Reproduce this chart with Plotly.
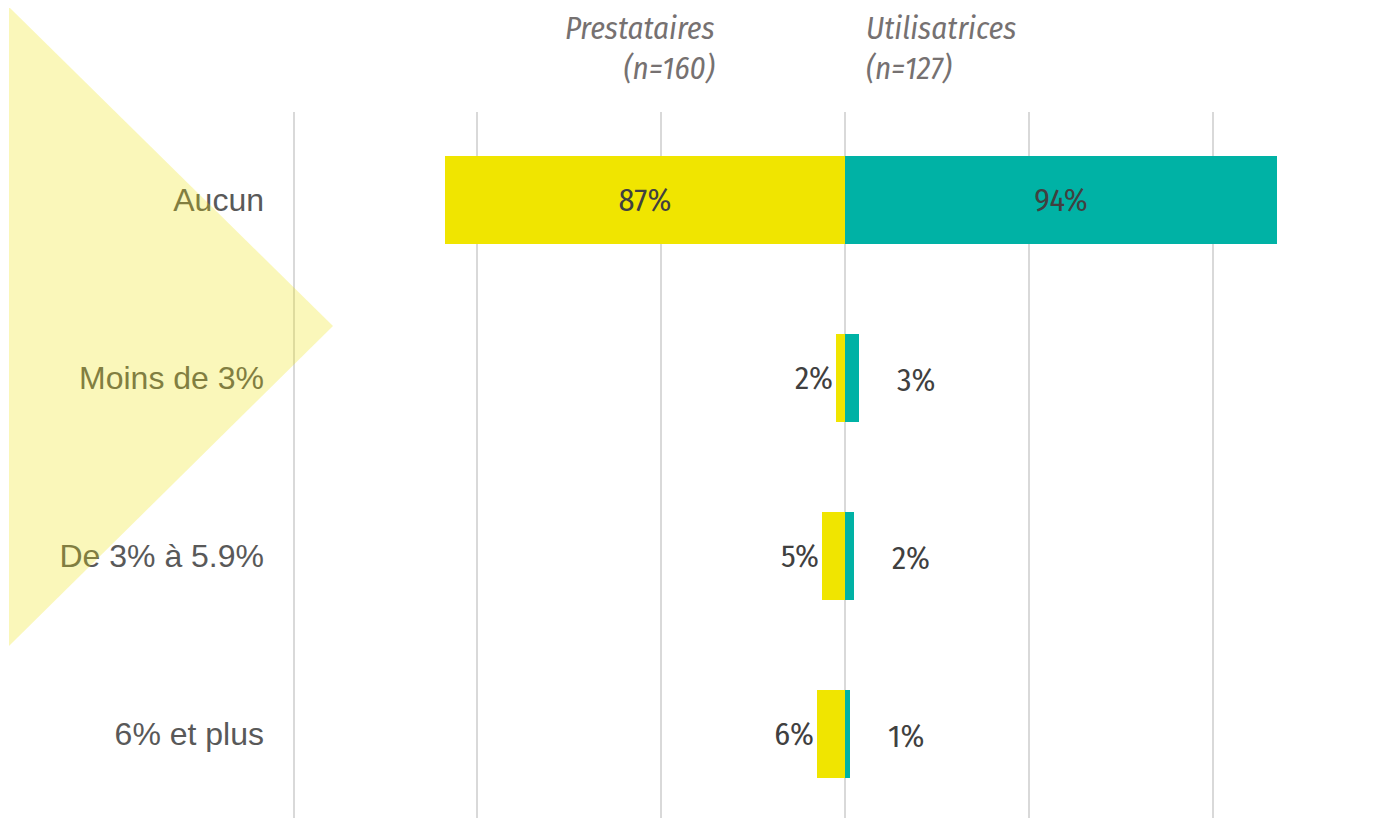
import plotly.graph_objects as go

categories = ["Aucun", "Moins de 3%", "De 3% à 5.9%", "6% et plus"]
prestataires = [87, 2, 5, 6]
utilisatrices = [94, 3, 2, 1]
series_names = ["Prestataires", "Utilisatrices"]
series_n = ["(n=160)", "(n=127)"]

YELLOW = "#F0E500"
TEAL = "#00B2A5"
LABEL_COLOR = "#404040"
CAT_COLOR = "#595959"
HEAD_COLOR = "#767171"
COND = "Fira Sans Condensed, Roboto Condensed, DejaVu Sans Condensed, Liberation Sans Narrow, Roboto, sans-serif"

OFF = 8  # page body margin
W, H = 1388 - OFF, 818 - OFF
ML, MT = 288 - OFF, 112 - OFF
plot_w, plot_h = W - ML, H - MT

ypos = list(range(len(categories)))
big = 50  # threshold for inside labels
VAL_SIZE = 32

fig = go.Figure()
fig.add_trace(go.Bar(
    y=ypos, x=[-v for v in prestataires], orientation="h",
    marker=dict(color=YELLOW, line=dict(width=0)),
    width=0.495, name=series_names[0],
    text=[f"{v}%" for v in prestataires],
    textposition=["inside" if v > big else "outside" for v in prestataires],
    insidetextanchor="middle",
    insidetextfont=dict(color=LABEL_COLOR, size=VAL_SIZE, family=COND),
    outsidetextfont=dict(color=LABEL_COLOR, size=VAL_SIZE, family=COND),
    cliponaxis=False,
))
fig.add_trace(go.Bar(
    y=ypos, x=utilisatrices, orientation="h",
    marker=dict(color=TEAL, line=dict(width=0)),
    width=0.495, name=series_names[1],
    text=[f"{v}%" if v > big else "" for v in utilisatrices],
    textposition="inside",
    insidetextanchor="middle",
    insidetextfont=dict(color=LABEL_COLOR, size=VAL_SIZE, family=COND),
    cliponaxis=False,
))

annotations = []
for yi, v in zip(ypos, utilisatrices):
    if v <= big:
        annotations.append(dict(
            x=v, y=yi, xref="x", yref="y", text=f"{v}%", showarrow=False,
            xanchor="left", yanchor="middle", xshift=36, yshift=-2,
            font=dict(color=LABEL_COLOR, size=VAL_SIZE, family=COND),
        ))

def py(p):
    return (H - (p - OFF)) / plot_h

def px(p):
    return (p - OFF - ML) / plot_w

HEAD_SIZE = 31
annotations += [
    dict(x=px(716), y=py(OFF + 1), xref="paper", yref="paper",
         text=f"<i>{series_names[0]}</i><br><i>{series_n[0]}</i>",
         showarrow=False, xanchor="right", yanchor="top", align="right", borderpad=0,
         font=dict(color=HEAD_COLOR, size=HEAD_SIZE, family=COND)),
    dict(x=px(865), y=py(OFF + 1), xref="paper", yref="paper",
         text=f"<i>{series_names[1]}</i><br><i>{series_n[1]}</i>",
         showarrow=False, xanchor="left", yanchor="top", align="left", borderpad=0,
         font=dict(color=HEAD_COLOR, size=HEAD_SIZE, family=COND)),
]

# decorative translucent triangle (drawn above the category labels)
tri = f"M {px(9)} {py(7)} L {px(333)} {py(326)} L {px(9)} {py(646)} Z"
shapes = [dict(type="path", path=tri, xref="paper", yref="paper",
               fillcolor="rgba(238,224,0,0.27)", line=dict(width=0), layer="above")]

px_per_unit = 183.8 / 40
zero_px = 845 - OFF
xr = [-(zero_px - ML) / px_per_unit, (W - zero_px) / px_per_unit]

fig.update_layout(
    width=W, height=H,
    margin=dict(l=ML, r=0, t=MT, b=0, pad=0),
    plot_bgcolor="white", paper_bgcolor="white",
    barmode="relative", bargap=0,
    showlegend=False,
    annotations=annotations,
    shapes=shapes,
    xaxis=dict(range=xr, tick0=0, dtick=40, showgrid=True, gridcolor="#D9D9D9", gridwidth=1.5,
               zeroline=True, zerolinecolor="#D9D9D9", zerolinewidth=1.5,
               showticklabels=False, showline=False, fixedrange=True),
    yaxis=dict(range=[3.472, -0.494], tickvals=ypos, ticktext=categories,
               showgrid=False, zeroline=False, showline=False,
               ticklabelstandoff=23,
               tickfont=dict(family="Liberation Sans, Arial, sans-serif", size=32, color=CAT_COLOR)),
    uniformtext=dict(mode=False),
)

fig.write_html("out.html")
